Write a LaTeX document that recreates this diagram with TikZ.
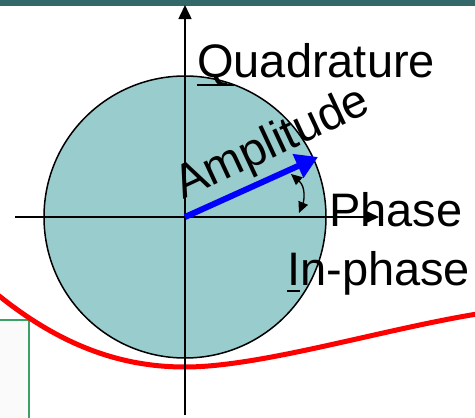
\documentclass[tikz,border=0pt]{standalone}
\usepackage{fontspec}
\setmainfont{Liberation Sans}
\usetikzlibrary{arrows.meta}
\definecolor{bar}{RGB}{52,104,104}
\definecolor{disc}{RGB}{153,204,204}
\definecolor{boxgreen}{RGB}{60,160,105}
\definecolor{boxfill}{RGB}{250,250,250}
\tikzset{
  axis/.style={line width=1.5pt,-{Triangle[length=14pt,width=13pt]}},
  lbl/.style={inner sep=0pt,anchor=base west,font=\fontsize{47}{56}\selectfont},
  uline/.style={line width=2.8pt},
  vec/.style={draw=blue,line width=6pt,-{Triangle[length=22pt,width=25pt]}},
  angarrow/.style={line width=1.3pt,{Triangle[length=11pt,width=10pt]}-{Triangle[length=11pt,width=10pt]}}
}
\begin{document}
\begin{tikzpicture}[x=1pt,y=-1pt]
\useasboundingbox (0,0) rectangle (475,418);
% top bar
\fill[bar] (0,0) rectangle (475,6);
% green box
\draw[boxgreen,line width=2pt,fill=boxfill] (-5,320) rectangle (29,425);
% red curve
\draw[red,line width=5pt] (-2,295) .. controls (60,345) and (120,367) .. (185,367)
   .. controls (260,367) and (380,330) .. (477,314);
% disc
\coordinate (O) at (185,217);
\draw[line width=1.5pt,fill=disc] (O) circle (141);
% axes
\coordinate (ybot) at (185,415);
\coordinate (ytop) at (185,5);
\coordinate (xleft) at (15,217);
\coordinate (xright) at (379,217);
\draw[axis] (ybot) -- (ytop);
\draw[axis] (xleft) -- (xright);
% amplitude vector
\coordinate (V) at (318,157);
\draw[vec] (O) -- (V);
% phase arrow
\coordinate (pa) at (291,174);
\coordinate (pb) at (299,213);
\draw[angarrow] (pa) .. controls (306,187) and (304,201) .. (pb);
% labels
\node[lbl] (quad) at (197,77) {Quadrature};
\node[lbl,rotate=25] (amp) at (183,200) {Amplitude};
\node[lbl] (phase) at (329,226) {Phase};
\node[lbl] (inph) at (287,285) {In-phase};
\draw[uline] ([yshift=-8pt]quad.base west) -- ++(37,0);
\draw[uline] ([yshift=-6pt]inph.base west) -- ++(13,0);
\end{tikzpicture}
\end{document}
